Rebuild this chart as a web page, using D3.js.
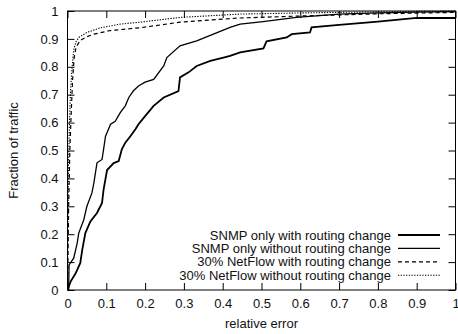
<!DOCTYPE html>
<html>
<head>
<meta charset="utf-8">
<script src="https://cdn.jsdelivr.net/npm/d3@7"></script>
<style>
  html, body { margin: 0; padding: 0; background: #fff; }
  svg { display: block; }
  text { font-family: "Liberation Sans", Arial, Helvetica, sans-serif; fill: #111; }
</style>
</head>
<body>
<svg id="chart" width="458" height="334"></svg>
<script>
// ---- data ----
const xTicks = [0, 0.1, 0.2, 0.3, 0.4, 0.5, 0.6, 0.7, 0.8, 0.9, 1];
const xTickLabels = ["0", "0.1", "0.2", "0.3", "0.4", "0.5", "0.6", "0.7", "0.8", "0.9", "1"];
const yTicks = [0, 0.1, 0.2, 0.3, 0.4, 0.5, 0.6, 0.7, 0.8, 0.9, 1];
const yTickLabels = ["0", "0.1", "0.2", "0.3", "0.4", "0.5", "0.6", "0.7", "0.8", "0.9", "1"];

const seriesNames = [
  "SNMP only with routing change",
  "SNMP only without routing change",
  "30% NetFlow with routing change",
  "30% NetFlow without routing change"
];

const snmpWithRouting = [
  [0,0],[0.008,0.03],[0.021,0.06],[0.033,0.097],[0.038,0.144],[0.046,0.204],[0.059,0.246],
  [0.076,0.276],[0.089,0.312],[0.093,0.36],[0.102,0.43],[0.119,0.455],[0.132,0.462],[0.14,0.504],
  [0.149,0.528],[0.162,0.551],[0.175,0.576],[0.183,0.594],[0.2,0.623],[0.222,0.66],[0.248,0.69],
  [0.286,0.713],[0.29,0.762],[0.312,0.78],[0.333,0.803],[0.368,0.821],[0.402,0.833],[0.419,0.839],
  [0.445,0.852],[0.505,0.866],[0.513,0.891],[0.565,0.905],[0.578,0.917],[0.625,0.923],[0.629,0.941],
  [0.70,0.95],[0.8,0.962],[0.9,0.975],[1.0,0.975]
];
const snmpWithoutRouting = [
  [0,0],[0.003,0.0],[0.004,0.09],[0.016,0.114],[0.025,0.168],[0.029,0.204],[0.042,0.252],[0.05,0.3],
  [0.063,0.348],[0.068,0.384],[0.076,0.456],[0.089,0.468],[0.093,0.504],[0.098,0.551],[0.111,0.594],
  [0.123,0.605],[0.136,0.636],[0.149,0.66],[0.158,0.69],[0.17,0.714],[0.183,0.731],[0.2,0.745],
  [0.222,0.755],[0.248,0.803],[0.256,0.833],[0.29,0.875],[0.333,0.893],[0.376,0.917],[0.419,0.941],
  [0.445,0.953],[0.504,0.962],[0.59,0.977],[0.70,0.989],[0.8,0.993],[0.9,0.996],[1.0,0.998]
];
const netflowWithRouting = [
  [0,0],[0.003,0.3],[0.006,0.5],[0.01,0.65],[0.013,0.75],[0.017,0.83],[0.022,0.87],[0.033,0.895],
  [0.05,0.908],[0.068,0.917],[0.11,0.93],[0.188,0.94],[0.29,0.96],[0.445,0.975],[0.6,0.982],
  [0.7,0.986],[0.8,0.99],[1.0,0.995]
];
const netflowWithoutRouting = [
  [0,0],[0.002,0.4],[0.005,0.6],[0.008,0.72],[0.012,0.8],[0.016,0.86],[0.022,0.89],[0.029,0.905],
  [0.05,0.923],[0.085,0.94],[0.136,0.953],[0.188,0.96],[0.29,0.977],[0.445,0.989],[0.6,0.993],
  [0.8,0.997],[1.0,1.0]
];

// ---- layout ----
const svg = d3.select("#chart");
const mLeft = 67.5, mRight = 455.5, mTop = 11, mBottom = 290;
const x = d3.scaleLinear().domain([0, 1]).range([mLeft, mRight]);
const y = d3.scaleLinear().domain([0, 1]).range([mBottom, mTop]);
const tickLen = 7;
const fontSize = 13;

const styles = [
  { width: 1.8, dash: null },
  { width: 1.3, dash: null },
  { width: 1.2, dash: "4,3" },
  { width: 1.1, dash: "1.3,1.4" }
];
const allSeries = [snmpWithRouting, snmpWithoutRouting, netflowWithRouting, netflowWithoutRouting];

// axes (inward ticks, mirrored)
const xAxisB = d3.axisBottom(x).tickValues(xTicks).tickSize(-tickLen).tickPadding(9)
  .tickFormat((d, i) => xTickLabels[i]);
const xAxisT = d3.axisTop(x).tickValues(xTicks).tickSize(-tickLen).tickFormat("");
const yAxisL = d3.axisLeft(y).tickValues(yTicks).tickSize(-tickLen).tickPadding(9)
  .tickFormat((d, i) => yTickLabels[i]);
const yAxisR = d3.axisRight(y).tickValues(yTicks).tickSize(-tickLen).tickFormat("");

function styleAxis(g) {
  g.select(".domain").remove();
  g.selectAll(".tick line").attr("stroke", "#000").attr("stroke-width", 1);
  g.selectAll(".tick text").attr("font-size", fontSize)
    .attr("font-family", '"Liberation Sans", Arial, Helvetica, sans-serif').attr("fill", "#111");
}
svg.append("g").attr("transform", `translate(0,${mBottom})`).call(xAxisB).call(styleAxis);
svg.append("g").attr("transform", `translate(0,${mTop})`).call(xAxisT).call(styleAxis);
svg.append("g").attr("transform", `translate(${mLeft},0)`).call(yAxisL).call(styleAxis);
svg.append("g").attr("transform", `translate(${mRight},0)`).call(yAxisR).call(styleAxis);

// curves
const line = d3.line().x(d => x(d[0])).y(d => y(d[1]));
svg.append("clipPath").attr("id", "plotclip").append("rect")
  .attr("x", mLeft).attr("y", mTop - 2).attr("width", mRight - mLeft).attr("height", mBottom - mTop + 2);
const plot = svg.append("g").attr("clip-path", "url(#plotclip)");
allSeries.forEach((s, i) => {
  plot.append("path").datum(s).attr("d", line)
    .attr("fill", "none").attr("stroke", "#000")
    .attr("stroke-width", styles[i].width)
    .attr("stroke-dasharray", styles[i].dash)
    .attr("stroke-linejoin", "miter");
});

// frame
svg.append("rect").attr("x", mLeft).attr("y", mTop).attr("width", mRight - mLeft).attr("height", mBottom - mTop)
  .attr("fill", "none").attr("stroke", "#000").attr("stroke-width", 1);

// legend
const legendTextX = 391, legendLineX1 = 398, legendLineX2 = 440;
const legendY0 = 235, legendDy = 13.4;
seriesNames.forEach((name, i) => {
  const cy = legendY0 + i * legendDy;
  svg.append("text").attr("x", legendTextX).attr("y", cy).attr("dy", "0.35em")
    .attr("text-anchor", "end").attr("font-size", fontSize).text(name);
  svg.append("line").attr("x1", legendLineX1).attr("x2", legendLineX2).attr("y1", cy).attr("y2", cy)
    .attr("stroke", "#000").attr("stroke-width", styles[i].width)
    .attr("stroke-dasharray", styles[i].dash);
});

// axis titles
svg.append("text").attr("x", (mLeft + mRight) / 2).attr("y", 328).attr("text-anchor", "middle")
  .attr("font-size", fontSize).text("relative error");
svg.append("text").attr("transform", `translate(18,${(mTop + mBottom) / 2}) rotate(-90)`)
  .attr("text-anchor", "middle").attr("font-size", fontSize).text("Fraction of traffic");
</script>
</body>
</html>
